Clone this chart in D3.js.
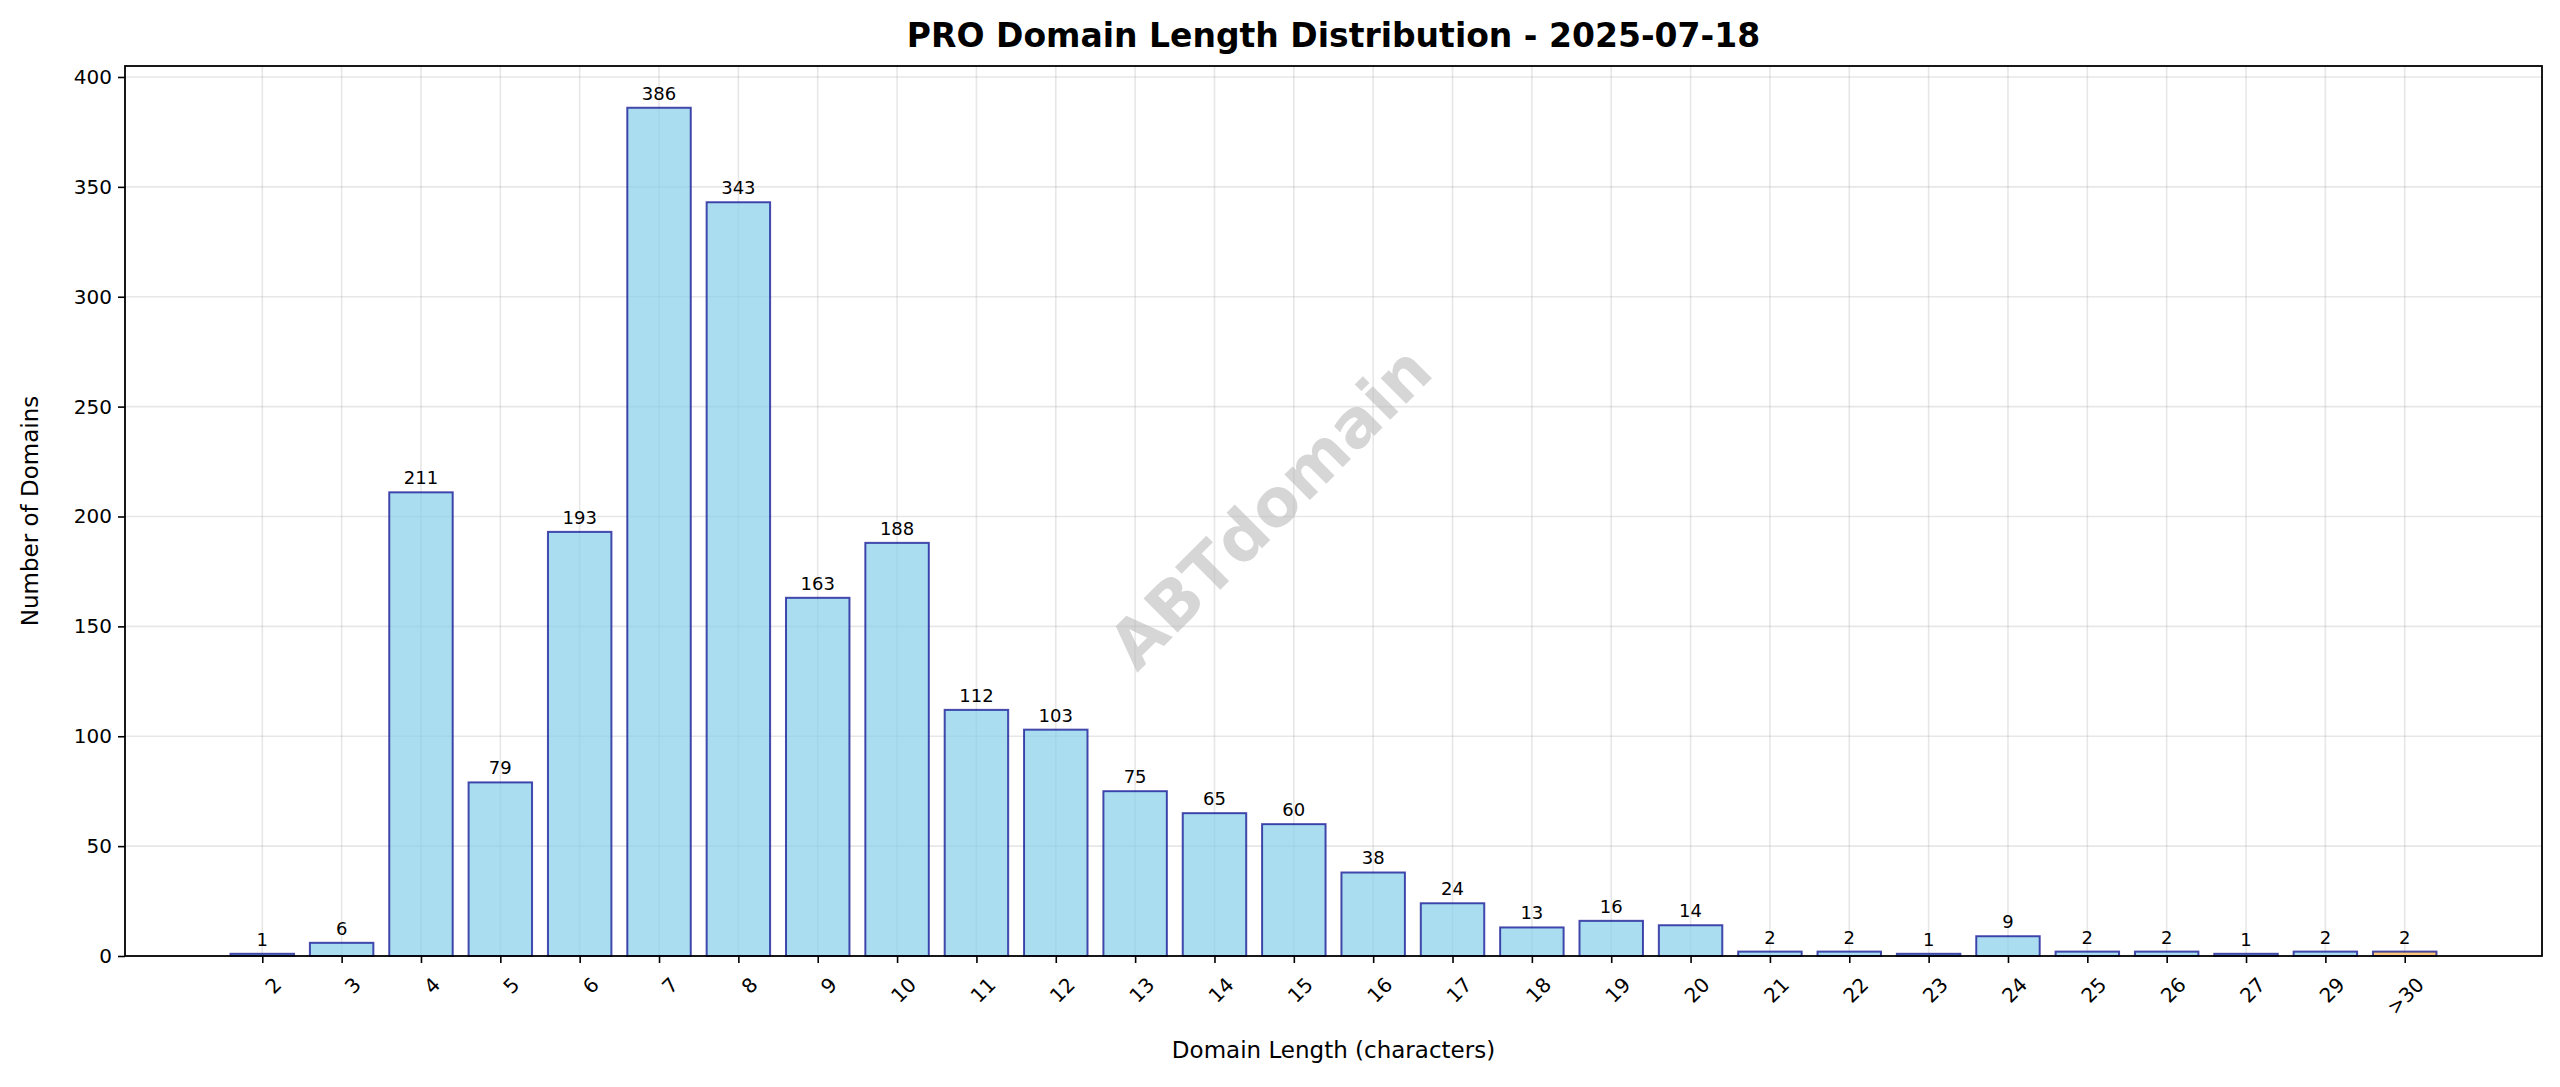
<!DOCTYPE html>
<html><head><meta charset="utf-8">
<script src="https://cdn.jsdelivr.net/npm/d3@7"></script>
<style>body{margin:0;background:#fff;font-family:"DejaVu Sans",sans-serif;}</style>
</head><body>
<svg id="chart" width="2560" height="1087"></svg>
<script>
// categories and counts
const lengths = ["2","3","4","5","6","7","8","9","10","11","12","13","14","15","16","17","18","19","20","21","22","23","24","25","26","27","29",">30"];
const counts = [1,6,211,79,193,386,343,163,188,112,103,75,65,60,38,24,13,16,14,2,2,1,9,2,2,1,2,2];
const yTicks = [0,50,100,150,200,250,300,350,400];

const svg = d3.select("#chart");
const mLeft = 125, mRight = 2542, mTop = 66, mBottom = 956;
const n = lengths.length;

const x = d3.scaleLinear().domain([-1.73, n - 1 + 1.73]).range([mLeft, mRight]);
const y = d3.scaleLinear().domain([0, 405]).range([mBottom, mTop]);
const bw = (x(1) - x(0)) * 0.8;

// grid
svg.append("g").selectAll("line").data(yTicks).join("line")
  .attr("x1", mLeft).attr("x2", mRight).attr("y1", d => y(d)).attr("y2", d => y(d))
  .attr("stroke", "#b0b0b0").attr("stroke-opacity", 0.3).attr("stroke-width", 1.6);
svg.append("g").selectAll("line").data(lengths).join("line")
  .attr("x1", (d, i) => x(i)).attr("x2", (d, i) => x(i)).attr("y1", mTop).attr("y2", mBottom)
  .attr("stroke", "#b0b0b0").attr("stroke-opacity", 0.3).attr("stroke-width", 1.6);

// watermark
svg.append("text").attr("transform", `translate(${(mLeft + mRight) / 2 - 60},${(mTop + mBottom) / 2}) rotate(-45)`)
  .attr("text-anchor", "middle").attr("dominant-baseline", "middle")
  .style("font-size", "66px").style("font-weight", "bold").attr("fill", "#bbbbbb").attr("fill-opacity", 0.6)
  .text("ABTdomain");

// bars
svg.append("g").selectAll("rect").data(counts).join("rect")
  .attr("x", (d, i) => x(i) - bw / 2).attr("width", bw)
  .attr("y", d => y(d)).attr("height", d => y(0) - y(d))
  .attr("fill", (d, i) => lengths[i] === ">30" ? "#ffb347" : "#87ceeb").attr("fill-opacity", 0.7)
  .attr("stroke", "#00008b").attr("stroke-opacity", 0.7).attr("stroke-width", 2);

// value labels
svg.append("g").selectAll("text").data(counts).join("text")
  .attr("x", (d, i) => x(i)).attr("y", d => y(d) - 8)
  .attr("text-anchor", "middle").style("font-size", "18px").text(d => d);

// axes
const yAxis = svg.append("g").attr("transform", `translate(${mLeft},0)`)
  .call(d3.axisLeft(y).tickValues(yTicks).tickSize(7).tickPadding(6));
yAxis.selectAll("text").style("font-size", "20px").style("font-family", "DejaVu Sans");
const xAxis = svg.append("g").attr("transform", `translate(0,${mBottom})`)
  .call(d3.axisBottom(x).tickValues(d3.range(n)).tickFormat(i => lengths[i]).tickSize(7));
xAxis.selectAll("text").style("font-size", "20px").style("font-family", "DejaVu Sans")
  .attr("text-anchor", "end").attr("dy", "0.35em")
  .attr("transform", "translate(8,18) rotate(-45)");
svg.selectAll(".domain").remove();
svg.selectAll(".tick line").attr("stroke", "#000").attr("stroke-width", 1.6);
svg.append("rect").attr("x", mLeft).attr("y", mTop).attr("width", mRight - mLeft).attr("height", mBottom - mTop)
  .attr("fill", "none").attr("stroke", "#000").attr("stroke-width", 1.8);

// titles
svg.append("text").attr("x", (mLeft + mRight) / 2).attr("y", 47).attr("text-anchor", "middle")
  .style("font-size", "33px").style("font-weight", "bold").text("PRO Domain Length Distribution - 2025-07-18");
svg.append("text").attr("x", (mLeft + mRight) / 2).attr("y", 1058).attr("text-anchor", "middle")
  .style("font-size", "23px").text("Domain Length (characters)");
svg.append("text").attr("transform", `translate(38,${(mTop + mBottom) / 2}) rotate(-90)`).attr("text-anchor", "middle")
  .style("font-size", "23px").text("Number of Domains");
</script>
</body></html>
